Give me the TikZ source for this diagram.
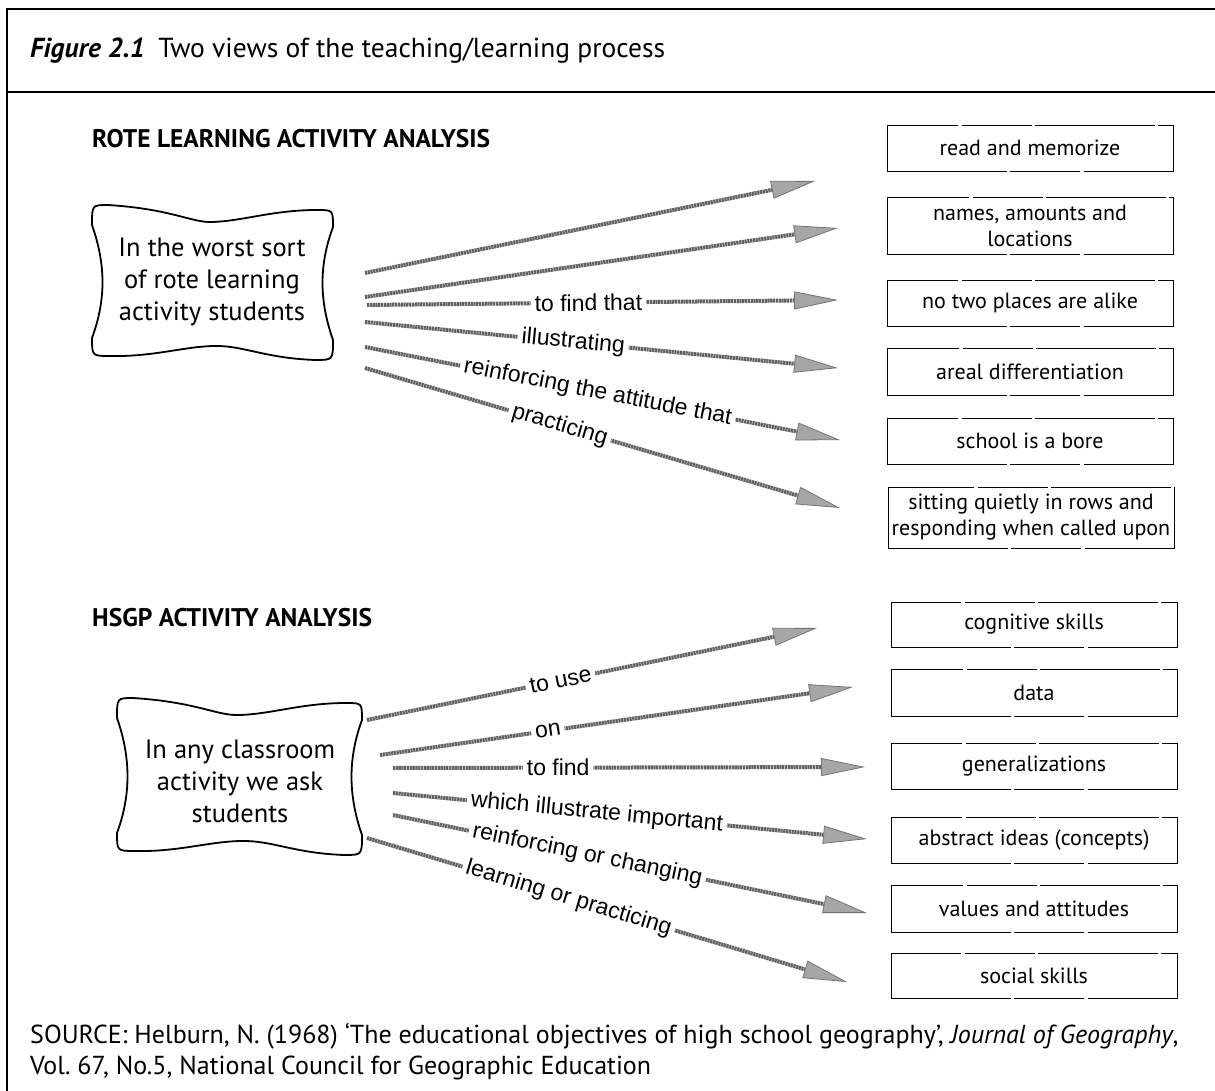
\documentclass[tikz,border=0pt]{standalone}
\usepackage{fontspec}
\setmainfont{PT Sans}
\newfontfamily\helv{Liberation Sans}
\usetikzlibrary{arrows.meta}
\frenchspacing
\newcommand{\cushionshape}[4]{%
  \draw[cushionline] (#1+16,#2) .. controls (#1+80,#2+4) and (#1+100,#2+18) .. ({(#1+#3)/2},#2+17)
    .. controls (#3-90,#2+16) and (#3-60,#2+5) .. (#3-16,#2+5)
    .. controls (#3,#2+5) .. (#3,#2+22)
    .. controls (#3-14,#2+60) and (#3-14,#4-60) .. (#3,#4-20)
    .. controls (#3,#4) .. (#3-18,#4)
    .. controls (#3-70,#4-2) and (#3-90,#4-15) .. ({(#1+#3)/2},#4-14)
    .. controls (#1+90,#4-13) and (#1+60,#4-3) .. (#1+18,#4-4)
    .. controls (#1,#4-4) .. (#1,#4-22)
    .. controls (#1+14,#4-60) and (#1+14,#2+60) .. (#1,#2+20)
    .. controls (#1,#2) .. cycle;}
\tikzset{
  frameline/.style={line width=1.5pt},
  cushionline/.style={line width=1.8pt},
  cushiontext/.style={align=center, font=\fontsize{26.5}{32}\selectfont, inner sep=0pt},
  heading/.style={anchor=west, font=\bfseries\fontsize{25.5}{28}\selectfont, inner sep=0pt},
  tbox/.style={draw, line width=0.9pt, dash pattern=on 120pt off 3pt on 70pt off 4pt on 150pt off 3pt,
    minimum width=286pt, align=center, inner sep=2pt, font=\fontsize{22}{26}\selectfont},
  stip/.style={draw=black!62, line width=4pt, dash pattern=on 2.2pt off 0.6pt,
    -{Triangle[length=44pt,width=18pt,fill=black!35,color=black!55,line width=0.8pt]}},
  lab/.style={sloped, fill=white, inner xsep=4pt, inner ysep=0pt, font=\helv\fontsize{23}{26}\selectfont},
  srcline/.style={anchor=west, inner sep=0pt, font=\fontsize{26}{30}\selectfont}
}
\begin{document}
\begin{tikzpicture}[x=1pt,y=-1pt]
\useasboundingbox (0,0) rectangle (1215,1091);
% frame
\draw[frameline] (7,1091) -- (7,9) -- (1215,9);
\draw[frameline] (7,92) -- (1215,92);
\node[anchor=west, inner sep=0pt, font=\fontsize{27.5}{30}\selectfont] (title) at (30,51)
  {\textbf{\textit{Figure 2.1}}\enspace Two views of the teaching/learning process};

% ---------- upper part ----------
\node[heading] (h1) at (92,139) {ROTE LEARNING ACTIVITY ANALYSIS};
\cushionshape{92}{205}{333}{360}
\node[cushiontext] (src1) at (212,282) {In the worst sort\\of rote learning\\activity students};

\node[tbox, minimum height=46pt] (a1) at (1030,148) {read and memorize};
\node[tbox, minimum height=57pt] (a2) at (1030,225.5) {names, amounts and\\locations};
\node[tbox, minimum height=46pt] (a3) at (1030,303) {no two places are alike};
\node[tbox, minimum height=47pt] (a4) at (1030,371.5) {areal differentiation};
\node[tbox, minimum height=46pt] (a5) at (1030,441) {school is a bore};
\node[tbox, minimum height=61pt] (a6) at (1031,517.5) {sitting quietly in rows and\\responding when called upon};

\coordinate (r1s) at (365,273); \coordinate (r1e) at (815,181);
\coordinate (r2s) at (365,297); \coordinate (r2e) at (838,228);
\coordinate (r3s) at (367,305); \coordinate (r3e) at (838,300);
\coordinate (r4s) at (365,322); \coordinate (r4e) at (838,368);
\coordinate (r5s) at (365,347); \coordinate (r5e) at (840,440);
\coordinate (r6s) at (365,368); \coordinate (r6e) at (840,508);
\draw[stip] (r1s) -- (r1e);
\draw[stip] (r2s) -- (r2e);
\draw[stip] (r3s) -- node[lab, pos=0.47] (l3) {to find that} (r3e);
\draw[stip] (r4s) -- node[lab, pos=0.44] (l4) {illustrating} (r4e);
\draw[stip] (r5s) -- node[lab, pos=0.49] (l5) {reinforcing the attitude that} (r5e);
\draw[stip] (r6s) -- node[lab, pos=0.41] (l6) {practicing} (r6e);

% ---------- lower part ----------
\node[heading] (h2) at (92,618) {HSGP ACTIVITY ANALYSIS};
\cushionshape{117}{698}{362}{855}
\node[cushiontext] (src2) at (240,781) {In any classroom\\activity we ask\\students};

\node[tbox, minimum height=45pt] (b1) at (1034,624.5) {cognitive skills};
\node[tbox, minimum height=47pt] (b2) at (1034,692.5) {data};
\node[tbox, minimum height=46pt] (b3) at (1034,766) {generalizations};
\node[tbox, minimum height=46pt] (b4) at (1034,840) {abstract ideas (concepts)};
\node[tbox, minimum height=47pt] (b5) at (1034,908.5) {values and attitudes};
\node[tbox, minimum height=45pt] (b6) at (1034,975.5) {social skills};

\coordinate (s1s) at (367,720); \coordinate (s1e) at (817,628);
\coordinate (s2s) at (380,755); \coordinate (s2e) at (853,687);
\coordinate (s3s) at (393,768); \coordinate (s3e) at (865,767);
\coordinate (s4s) at (393,793); \coordinate (s4e) at (867,839);
\coordinate (s5s) at (393,815); \coordinate (s5e) at (867,913);
\coordinate (s6s) at (367,838); \coordinate (s6e) at (847,982);
\draw[stip] (s1s) -- node[lab, pos=0.43] (m1) {to use} (s1e);
\draw[stip] (s2s) -- node[lab, pos=0.355] (m2) {on} (s2e);
\draw[stip] (s3s) -- node[lab, pos=0.35] (m3) {to find} (s3e);
\draw[stip] (s4s) -- node[lab, pos=0.43] (m4) {which illustrate important} (s4e);
\draw[stip] (s5s) -- node[lab, pos=0.41] (m5) {reinforcing or changing} (s5e);
\draw[stip] (s6s) -- node[lab, pos=0.42] (m6) {learning or practicing} (s6e);

% ---------- source ----------
\node[srcline] (srcA) at (30,1036) {SOURCE: Helburn, N. (1968) ‘The educational objectives of high school geography’, \textit{Journal of Geography},};
\node[srcline] (srcB) at (30,1068) {Vol. 67, No.5, National Council for Geographic Education};
\end{tikzpicture}
\end{document}
